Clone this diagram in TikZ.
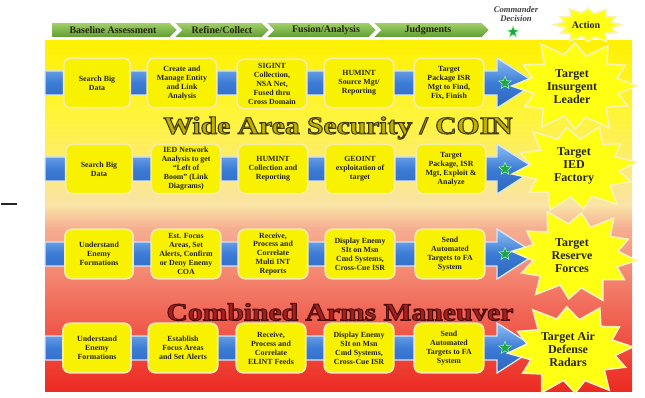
\documentclass[tikz,border=0pt]{standalone}
\usepackage{fontspec}
\usepackage{graphicx}
\setmainfont{Liberation Serif}
\usetikzlibrary{shapes.geometric}
\definecolor{boxyellow}{HTML}{F8F200}
\definecolor{boxedge}{HTML}{F4ECA8}
\definecolor{textdark}{HTML}{262412}
\definecolor{barblue}{HTML}{3C7CD6}
\definecolor{barlight}{HTML}{8FBDF2}
\definecolor{bardark}{HTML}{2C64BA}
\definecolor{baredge}{HTML}{D4E6F8}
\definecolor{burstyellow}{HTML}{FFFF14}
\definecolor{burstedge}{HTML}{F7F3B8}
\definecolor{chevlight}{HTML}{A6D46C}
\definecolor{chevdark}{HTML}{5B9A2F}
\definecolor{stargreen}{HTML}{22A24A}
\definecolor{olivefill}{HTML}{C2B000}
\definecolor{redfill}{HTML}{A81E1E}
\definecolor{bgA}{HTML}{FFF100}
\definecolor{bgB}{HTML}{FFF43C}
\definecolor{bgC}{HTML}{FAE3A6}
\definecolor{bgD}{HTML}{F6AE92}
\definecolor{bgE}{HTML}{F2705E}
\definecolor{bgF}{HTML}{EC2A22}
% outlined text: #1 = stroke colour as "r g b", #2 = text
\newcommand\outlined[2]{\special{pdf:literal direct #1 RG 0.7 w 2 Tr}#2\special{pdf:literal direct 0 Tr}}
\newcommand\mkbar[1]{%
  \draw[top color=barlight, bottom color=bardark, middle color=barblue, draw=baredge, line width=1pt]
    (45,#1-12) -- (497,#1-12) -- (497,#1-25) -- (536,#1) -- (497,#1+25) -- (497,#1+12) -- (45,#1+12) -- cycle;}
\begin{document}
\begin{tikzpicture}[x=0.75pt,y=-0.75pt,
  box/.style={rectangle, rounded corners=5pt, fill=boxyellow, draw=boxedge, line width=1.3pt,
    minimum width=52pt, minimum height=37pt, align=center, inner sep=1.2pt,
    font=\fontsize{5.9}{6.7}\selectfont\bfseries, text=textdark},
  bursttext/.style={align=center, inner sep=0pt, font=\fontsize{9}{9.8}\selectfont\bfseries, text=textdark},
  gstar/.style={star, star points=5, star point ratio=2.3, fill=stargreen, draw=green!40!white,
    line width=0.4pt, minimum size=10pt, inner sep=0pt},
  chev/.style={top color=chevlight, bottom color=chevdark, draw=white, line width=1.2pt},
  chevtext/.style={inner sep=0pt, font=\fontsize{7.5}{8}\selectfont\bfseries, text=textdark},
  titletext/.style={inner sep=0pt, font=\fontsize{18.5}{19}\selectfont\bfseries},
  burstpic/.pic={\path[fill=burstyellow, draw=burstedge, line width=1.2pt]
    plot coordinates {(0:1) (14:0.72) (28:0.96) (44:0.7) (60:1.1) (76:0.73) (90:0.98) (104:0.7)
      (120:1.08) (135:0.72) (150:0.94) (165:0.68) (180:1.02) (195:0.72) (210:0.96) (225:0.7)
      (240:1.1) (256:0.74) (270:0.98) (285:0.7) (300:1.06) (316:0.72) (330:0.94) (345:0.7)} -- cycle;}
]
\useasboundingbox (0,0) rectangle (645,398);
\fill[white] (0,0) rectangle (645,398);
% background panel
\shade[top color=bgA, bottom color=bgB] (45,41) rectangle (632,118.5);
\shade[top color=bgB, bottom color=bgC] (45,118) rectangle (632,205.5);
\shade[top color=bgC, bottom color=bgD] (45,205) rectangle (632,228.5);
\shade[top color=bgD, bottom color=bgE] (45,228) rectangle (632,300.5);
\shade[top color=bgE, bottom color=bgF] (45,300) rectangle (632,391);
% stray dash at left
\coordinate (dashA) at (1,204);
\coordinate (dashB) at (17,204);
\draw[line width=1.5pt, black!85] (dashA) -- (dashB);
% row bars
\mkbar{83}
\mkbar{169}
\mkbar{254}
\mkbar{348}
% row 1
\node[box, minimum width=50pt] (r1a) at (97,83) {Search Big\\Data};
\node[box] (r1b) at (182,83) {Create and\\Manage Entity\\and Link\\Analysis};
\node[box] (r1c) at (272,84) {SIGINT\\Collection,\\NSA Net,\\Fused thru\\Cross Domain};
\node[box] (r1d) at (359,83) {HUMINT\\Source Mgt/\\Reporting};
\node[box] (r1e) at (449,83) {Target\\Package ISR\\Mgt to Find,\\Fix, Finish};
% row 2
\node[box, minimum width=50pt] (r2a) at (99,169) {Search Big\\Data};
\node[box] (r2b) at (186,169) {IED Network\\Analysis to get\\``Left of\\Boom'' (Link\\Diagrams)};
\node[box] (r2c) at (273,169) {HUMINT\\Collection and\\Reporting};
\node[box] (r2d) at (360,169) {GEOINT\\exploitation of\\target};
\node[box] (r2e) at (451,169) {Target\\Package, ISR\\Mgt, Exploit \&\\Analyze};
% row 3
\node[box, minimum width=51pt] (r3a) at (99,254) {Understand\\Enemy\\Formations};
\node[box] (r3b) at (186,254) {Est. Focus\\Areas, Set\\Alerts, Confirm\\or Deny Enemy\\COA};
\node[box] (r3c) at (273,254) {Receive,\\Process and\\Correlate\\Multi INT\\Reports};
\node[box] (r3d) at (360,254) {Display Enemy\\SIt on Msn\\Cmd Systems,\\Cross-Cue ISR};
\node[box] (r3e) at (450,254) {Send\\Automated\\Targets to FA\\System};
% row 4
\node[box, minimum width=51pt] (r4a) at (97,348) {Understand\\Enemy\\Formations};
\node[box] (r4b) at (183,348) {Establish\\Focus Areas\\and Set Alerts};
\node[box] (r4c) at (271,348) {Receive,\\Process and\\Correlate\\ELINT Feeds};
\node[box] (r4d) at (359,348) {Display Enemy\\SIt on Msn\\Cmd Systems,\\Cross-Cue ISR};
\node[box] (r4e) at (449,348) {Send\\Automated\\Targets to FA\\System};
% stars in arrows
\node[gstar] (s1) at (505,83) {};
\node[gstar] (s2) at (505,169) {};
\node[gstar] (s3) at (505,254) {};
\node[gstar] (s4) at (505,348) {};
% bursts
\pic[xscale=62, yscale=44] at (575,86) {burstpic};
\pic[xscale=62, yscale=42, rotate=8] at (575,168) {burstpic};
\pic[xscale=62, yscale=44, rotate=-6] at (575,256) {burstpic};
\pic[xscale=62, yscale=44, rotate=4] at (571,350) {burstpic};
\node[bursttext] (t1) at (572,87) {Target\\Insurgent\\Leader};
\node[bursttext] (t2) at (574,166) {Target\\IED\\Factory};
\node[bursttext] (t3) at (572,256) {Target\\Reserve\\Forces};
\node[bursttext] (t4) at (568,349) {Target Air\\Defense\\Radars};
% titles
\node[titletext, text=olivefill] (wtitle) at (338,128)
  {\scalebox{1.2}[1]{\outlined{0.25 0.23 0}{Wide Area Security / COIN}}};
\node[titletext, text=redfill] (ctitle) at (340,312)
  {\scalebox{1.2}[1]{\outlined{0.3 0.05 0.05}{Combined Arms Maneuver}}};
% banner
\path[chev] (51,22) -- (170,22) -- (178,30) -- (170,38) -- (51,38) -- cycle;
\path[chev] (173,22) -- (262,22) -- (270,30) -- (262,38) -- (173,38) -- (181,30) -- cycle;
\path[chev] (265,22) -- (369,22) -- (377,30) -- (369,38) -- (265,38) -- (273,30) -- cycle;
\path[chev] (372,22) -- (482,22) -- (490,30) -- (482,38) -- (372,38) -- (380,30) -- cycle;
\node[chevtext] (h1) at (113,30) {Baseline Assessment};
\node[chevtext] (h2) at (222,30) {Refine/Collect};
\node[chevtext] (h3) at (326,30) {Fusion/Analysis};
\node[chevtext] (h4) at (428,30) {Judgments};
\node[align=center, inner sep=0pt, font=\fontsize{6.5}{7}\selectfont\bfseries\itshape, text=black!75] (cmd) at (516,14) {Commander\\Decision};
\node[gstar, minimum size=9pt] (s0) at (513,32) {};
\pic[xscale=34, yscale=17] at (588,25) {burstpic};
\node[chevtext] (act) at (586,25) {Action};
\end{tikzpicture}
\end{document}
